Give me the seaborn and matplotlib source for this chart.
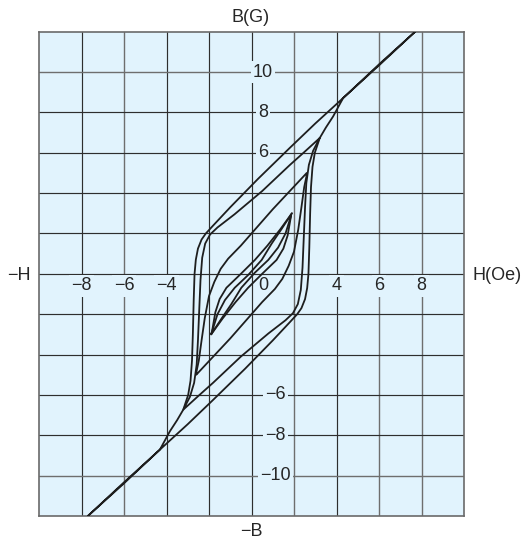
import matplotlib
matplotlib.use("Agg")
import matplotlib.pyplot as plt
import pandas as pd
import seaborn as sns

# ---- data: descending (upper) branch of each hysteresis loop, H in Oe, B in G ----
# outer, saturating loop
sat_H = [7.7, 6.05, 4.31, 3.0, 1.81, 0.3, -1.0, -1.8, -2.15, -2.35, -2.52, -2.62,
         -2.68, -2.72, -2.76, -2.8, -2.87, -2.98, -3.21, -3.5, -3.84, -4.31, -6.03, -7.7]
sat_B = [12.0, 10.43, 8.71, 7.45, 6.25, 4.7, 3.3, 2.4, 2.0, 1.7, 1.25, 0.7,
         0.0, -1.3, -3.0, -4.3, -5.3, -6.0, -6.73, -7.25, -7.8, -8.71, -10.36, -12.0]
# loop with tips at +/-3.21 Oe
l1_H = [3.21, 2.5, 1.81, 0.5, -0.8, -1.6, -1.95, -2.18, -2.32, -2.4, -2.46, -2.52,
        -2.58, -2.7, -2.9, -3.21]
l1_B = [6.73, 6.05, 5.4, 4.1, 2.95, 2.3, 1.95, 1.5, 0.8, -0.3, -1.8, -3.3,
        -4.5, -5.4, -6.1, -6.73]
# loop with tips at +/-2.6 Oe
l2_H = [2.6, 1.0, -0.5, -1.1, -1.45, -1.75, -2.0, -2.2, -2.35, -2.48, -2.6]
l2_B = [5.0, 3.2, 1.4, 0.75, 0.25, -0.4, -1.1, -2.2, -3.3, -4.3, -4.9]
# two narrow loops with tips at +/-1.9 Oe
l3_H = [1.9, 1.35, 0.75, 0.16, -0.5, -1.18, -1.5, -1.7, -1.86]
l3_B = [3.0, 2.2, 1.4, 0.69, 0.0, -0.69, -1.25, -1.9, -2.87]
l4_H = [1.9, 1.4, 0.95, 0.48, -0.15, -0.79, -1.25, -1.6, -1.86]
l4_B = [3.0, 2.2, 1.5, 0.69, -0.05, -0.69, -1.3, -2.0, -2.87]

x_tick_vals = [-8, -6, -4, 4, 6, 8]
y_tick_vals = [10, 8, 6, -6, -8, -10]

# ---- build the closed loops (ascending branch is the point reflection) ----
rows = []
for name, hs, bs in [("sat", sat_H, sat_B), ("l1", l1_H, l1_B), ("l2", l2_H, l2_B),
                     ("l3", l3_H, l3_B), ("l4", l4_H, l4_B)]:
    path_h = list(hs) + [-h for h in hs]
    path_b = list(bs) + [-b for b in bs]
    for i, (h, b) in enumerate(zip(path_h, path_b)):
        rows.append({"loop": name, "step": i, "H": h, "B": b})
df = pd.DataFrame(rows)

sns.set_style("white")
plt.rcParams["font.family"] = ["Liberation Sans", "DejaVu Sans"]

W, H = 524, 541
fig = plt.figure(figsize=(W / 100, H / 100), dpi=100)
ax = fig.add_axes([39 / W, 1 - 516 / H, (464 - 39) / W, (516 - 31.7) / H])
bg = "#e1f3fd"
ax.set_facecolor(bg)
ax.set_xlim(-10, 10)
ax.set_ylim(-12, 12)

dark, grey = "#2e2e2e", "#6e6e6e"
for gx in range(-8, 9, 2):
    c = grey if gx in (-6, 2, 6, 8) else dark
    ax.axvline(gx, color=c, lw=1.0 if c == grey else 0.85, zorder=1)
for gy in range(-10, 11, 2):
    c = grey if gy in (10, -10) else dark
    ax.axhline(gy, color=c, lw=1.0 if c == grey else 0.85, zorder=1)
for s in ax.spines.values():
    s.set_color("#6a6a6a")
    s.set_linewidth(1.2)
ax.set_xticks([])
ax.set_yticks([])

sns.lineplot(data=df, x="H", y="B", units="loop", estimator=None, sort=False,
             color="#1e1e1e", lw=1.3, ax=ax, zorder=3, legend=False)
ax.set_xlabel("")
ax.set_ylabel("")

fs = 13
box = dict(facecolor=bg, edgecolor="none", pad=1.5)
for v in x_tick_vals:
    ax.text(v, -0.6, f"{v}".replace("-", "\u2212"), ha="center", va="center",
            fontsize=fs, bbox=box, zorder=2)
ax.text(0.55, -0.6, "0", ha="center", va="center", fontsize=fs, zorder=2)
for v in y_tick_vals:
    xc = 0.55 if v > 0 else 1.12
    ax.text(xc, v, f"{v}".replace("-", "\u2212"), ha="center", va="center",
            fontsize=fs, bbox=box, zorder=2)

fig.text(251 / W, 1 - 18 / H, "B(G)", ha="center", va="center", fontsize=fs)
fig.text(251.5 / W, 1 - 532 / H, "\u2212B", ha="center", va="center", fontsize=fs)
fig.text(18.5 / W, 1 - 275 / H, "\u2212H", ha="center", va="center", fontsize=fs)
fig.text(497 / W, 1 - 275 / H, "H(Oe)", ha="center", va="center", fontsize=fs)

fig.savefig("out.png", dpi=100, facecolor="white")
